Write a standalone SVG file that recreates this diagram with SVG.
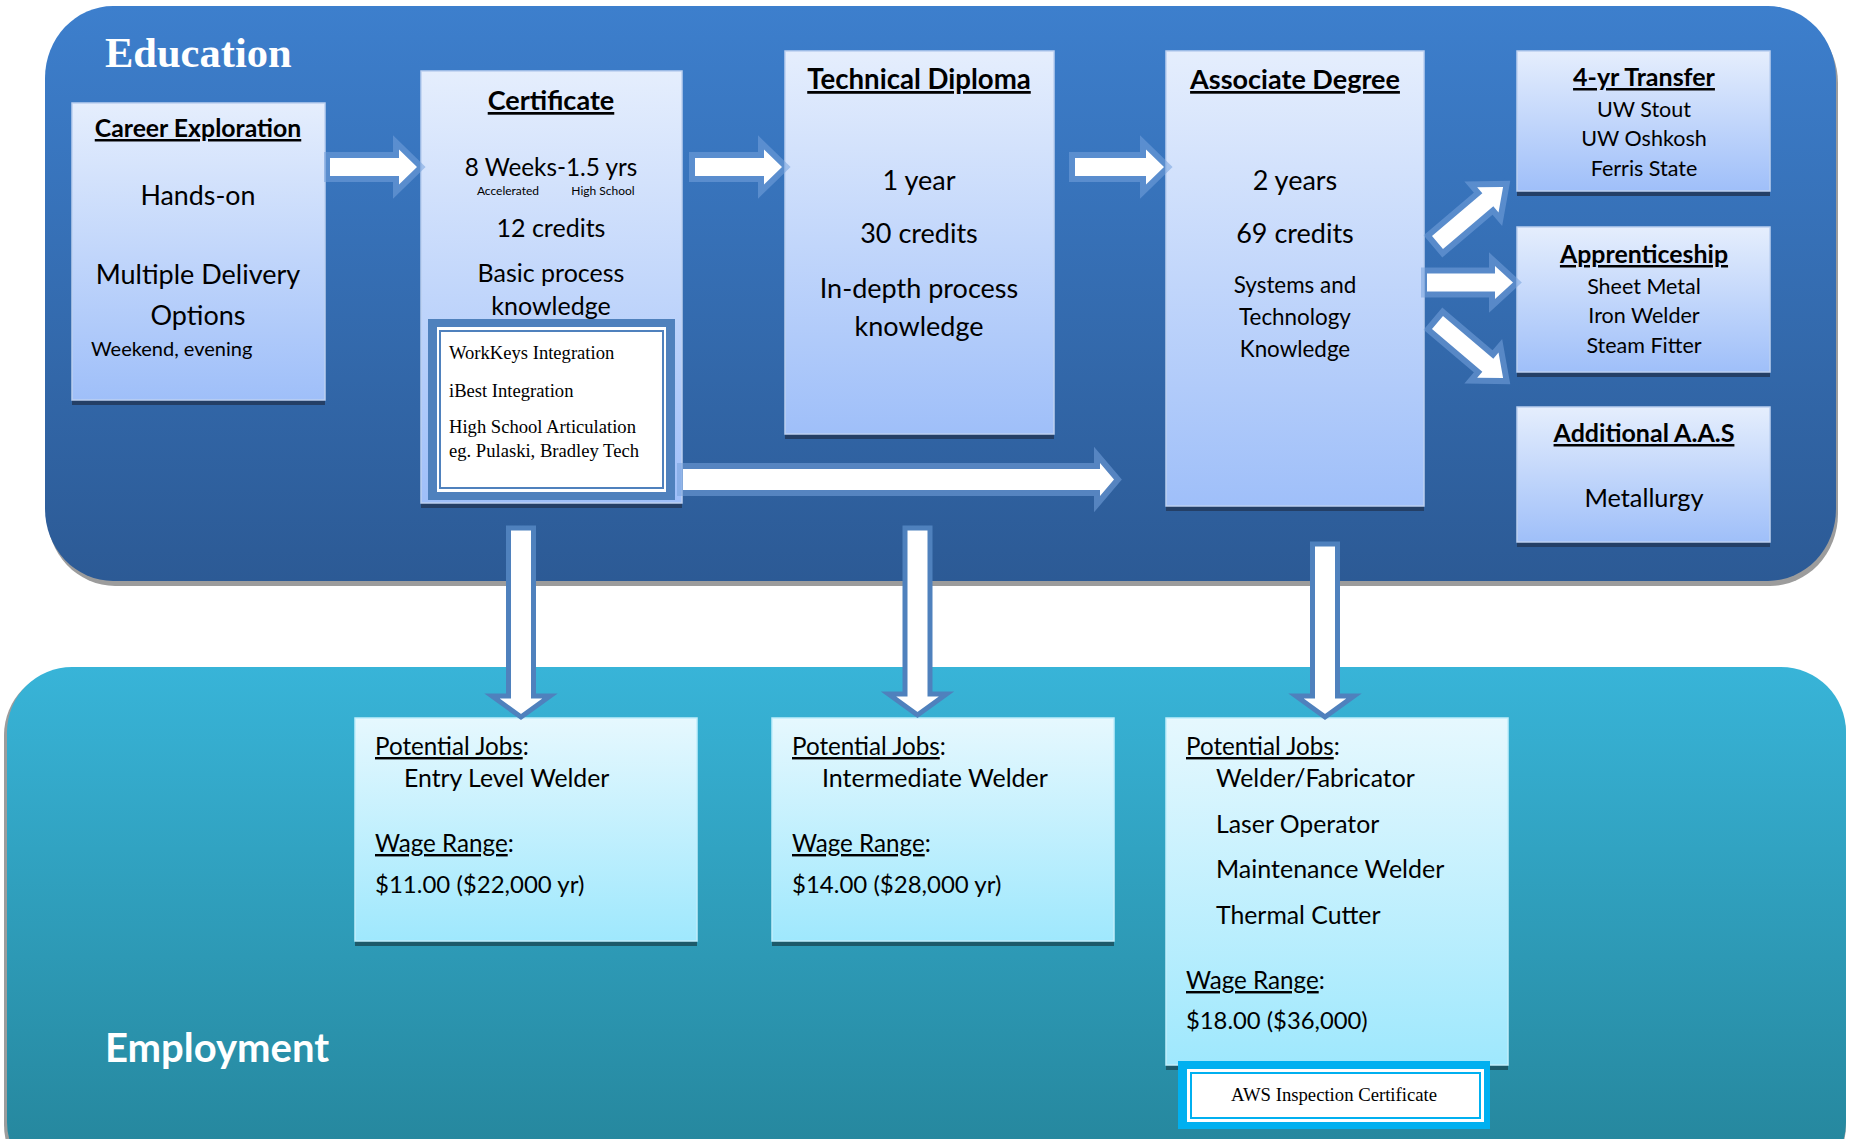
<svg xmlns="http://www.w3.org/2000/svg" width="1853" height="1139" viewBox="0 0 1853 1139">
<defs>
  <linearGradient id="gEdu" x1="0" y1="0" x2="0" y2="1"><stop offset="0" stop-color="#3d7fcd"/><stop offset="1" stop-color="#2c5a95"/></linearGradient>
  <linearGradient id="gEmp" gradientUnits="userSpaceOnUse" x1="0" y1="667" x2="0" y2="1139"><stop offset="0" stop-color="#38b4d8"/><stop offset="1" stop-color="#26889f"/></linearGradient>
  <linearGradient id="gBox" x1="0" y1="0" x2="0" y2="1"><stop offset="0" stop-color="#e5eefd"/><stop offset="1" stop-color="#9fbff9"/></linearGradient>
  <linearGradient id="gJob" x1="0" y1="0" x2="0" y2="1"><stop offset="0" stop-color="#e6f8fe"/><stop offset="1" stop-color="#9fe8fd"/></linearGradient>
</defs>
<style>
  .box{fill:url(#gBox);stroke:#bcd0f0;stroke-width:1.5}
  .shd{fill:#243f66}
  .job{fill:url(#gJob);stroke:#c0eefb;stroke-width:1.5}
  .jshd{fill:#1d5a6a}
  .t{font-family:Lato,"Open Sans",sans-serif;fill:#000}
  .c{text-anchor:middle}
  .h{font-weight:bold;text-decoration:underline}
  .tr{font-family:"Liberation Serif","Times New Roman",serif;fill:#000}
  .ha{fill:#fff;stroke:#77a3dc;stroke-opacity:.55;stroke-width:12;stroke-linejoin:miter;paint-order:stroke}
  .da{fill:#fff;stroke:#4f81bd;stroke-width:5;stroke-linejoin:miter}
</style>
<rect width="1853" height="1139" fill="#fff"/>

<g id="education-panel">
  <rect x="47" y="11" width="1791" height="575" rx="68" ry="72" fill="#9c9c9c"/>
  <rect x="45" y="6" width="1791" height="575" rx="68" ry="72" fill="url(#gEdu)"/>
  <text x="105" y="67" font-family="'Liberation Serif','Times New Roman',serif" font-weight="bold" font-size="42.5" fill="#fff">Education</text>
</g>

<g id="employment-panel">
  <rect x="4" y="670" width="1842" height="520" rx="65" ry="65" fill="#9c9c9c"/>
  <rect x="7" y="667" width="1839" height="520" rx="65" ry="65" fill="url(#gEmp)"/>
  <text x="105" y="1062" font-family="Lato,'Open Sans',sans-serif" font-weight="bold" font-size="40" fill="#fff">Employment</text>
</g>

<g id="career-exploration">
  <rect class="shd" x="72" y="400" width="253" height="5"/>
  <rect class="box" x="72" y="103" width="253" height="297"/>
  <text class="t c h" x="198" y="137" font-size="24.8">Career Exploration</text>
  <text class="t c" x="198" y="205" font-size="26.8">Hands-on</text>
  <text class="t c" x="198" y="284" font-size="27">Multiple Delivery</text>
  <text class="t c" x="198" y="325" font-size="27">Options</text>
  <text class="t" x="91" y="356" font-size="20">Weekend, evening</text>
</g>

<g id="certificate">
  <rect class="shd" x="421" y="503" width="261" height="5"/>
  <rect class="box" x="421" y="71" width="261" height="432"/>
  <text class="t c h" x="551" y="110" font-size="27">Certificate</text>
  <text class="t c" x="551" y="176" font-size="24.3">8 Weeks-1.5 yrs</text>
  <text class="t c" x="508" y="195" font-size="12">Accelerated</text>
  <text class="t c" x="603" y="195" font-size="12">High School</text>
  <text class="t c" x="551" y="237" font-size="25">12 credits</text>
  <text class="t c" x="551" y="282" font-size="25">Basic process</text>
  <text class="t c" x="551" y="315" font-size="25">knowledge</text>
  <rect x="428" y="319" width="247" height="181" fill="#4f81bd"/>
  <rect x="437" y="327" width="229" height="165" fill="#fff"/>
  <rect x="440" y="331" width="223" height="157" fill="#fff" stroke="#4f81bd" stroke-width="2"/>
  <text class="tr" x="449" y="359" font-size="18.6">WorkKeys Integration</text>
  <text class="tr" x="449" y="397" font-size="18.6">iBest Integration</text>
  <text class="tr" x="449" y="433" font-size="18.6">High School Articulation</text>
  <text class="tr" x="449" y="457" font-size="18.6">eg. Pulaski, Bradley Tech</text>
</g>

<g id="technical-diploma">
  <rect class="shd" x="785" y="434" width="269" height="5"/>
  <rect class="box" x="785" y="51" width="269" height="383"/>
  <text class="t c h" x="919" y="89" font-size="27.6">Technical Diploma</text>
  <text class="t c" x="919" y="190" font-size="27">1 year</text>
  <text class="t c" x="919" y="243" font-size="27">30 credits</text>
  <text class="t c" x="919" y="298" font-size="27">In-depth process</text>
  <text class="t c" x="919" y="336" font-size="27">knowledge</text>
</g>

<g id="associate-degree">
  <rect class="shd" x="1166" y="506" width="258" height="5"/>
  <rect class="box" x="1166" y="51" width="258" height="455"/>
  <text class="t c h" x="1295" y="89" font-size="27">Associate Degree</text>
  <text class="t c" x="1295" y="190" font-size="27">2 years</text>
  <text class="t c" x="1295" y="243" font-size="27">69 credits</text>
  <text class="t c" x="1295" y="293" font-size="22.4">Systems and</text>
  <text class="t c" x="1295" y="325" font-size="22.4">Technology</text>
  <text class="t c" x="1295" y="357" font-size="22.4">Knowledge</text>
</g>

<g id="four-year-transfer">
  <rect class="shd" x="1517" y="191" width="253" height="5"/>
  <rect class="box" x="1517" y="51" width="253" height="140"/>
  <text class="t c h" x="1644" y="86" font-size="25">4-yr Transfer</text>
  <text class="t c" x="1644" y="117" font-size="21.5">UW Stout</text>
  <text class="t c" x="1644" y="146" font-size="21.5">UW Oshkosh</text>
  <text class="t c" x="1644" y="176" font-size="21.5">Ferris State</text>
</g>

<g id="apprenticeship">
  <rect class="shd" x="1517" y="372" width="253" height="5"/>
  <rect class="box" x="1517" y="227" width="253" height="145"/>
  <text class="t c h" x="1644" y="263" font-size="24.9">Apprenticeship</text>
  <text class="t c" x="1644" y="294" font-size="21.5">Sheet Metal</text>
  <text class="t c" x="1644" y="323" font-size="21.5">Iron Welder</text>
  <text class="t c" x="1644" y="353" font-size="21.5">Steam Fitter</text>
</g>

<g id="additional-aas">
  <rect class="shd" x="1517" y="542" width="253" height="5"/>
  <rect class="box" x="1517" y="407" width="253" height="135"/>
  <text class="t c h" x="1644" y="442" font-size="25">Additional A.A.S</text>
  <text class="t c" x="1644" y="507" font-size="25.3">Metallurgy</text>
</g>

<g id="jobs-certificate">
  <rect class="jshd" x="355" y="941" width="342" height="5"/>
  <rect class="job" x="355" y="718" width="342" height="223"/>
  <text class="t" x="375" y="755" font-size="24.2"><tspan text-decoration="underline">Potential Jobs</tspan>:</text>
  <text class="t" x="404" y="787" font-size="24.8">Entry Level Welder</text>
  <text class="t" x="375" y="852" font-size="24.2"><tspan text-decoration="underline">Wage Range</tspan>:</text>
  <text class="t" x="375" y="893" font-size="24">$11.00 ($22,000 yr)</text>
</g>

<g id="jobs-diploma">
  <rect class="jshd" x="772" y="941" width="342" height="5"/>
  <rect class="job" x="772" y="718" width="342" height="223"/>
  <text class="t" x="792" y="755" font-size="24.2"><tspan text-decoration="underline">Potential Jobs</tspan>:</text>
  <text class="t" x="822" y="787" font-size="25">Intermediate Welder</text>
  <text class="t" x="792" y="852" font-size="24.2"><tspan text-decoration="underline">Wage Range</tspan>:</text>
  <text class="t" x="792" y="893" font-size="24">$14.00 ($28,000 yr)</text>
</g>

<g id="jobs-degree">
  <rect class="jshd" x="1166" y="1065" width="342" height="5"/>
  <rect class="job" x="1166" y="718" width="342" height="347"/>
  <text class="t" x="1186" y="755" font-size="24.2"><tspan text-decoration="underline">Potential Jobs</tspan>:</text>
  <text class="t" x="1216" y="787" font-size="24.8">Welder/Fabricator</text>
  <text class="t" x="1216" y="833" font-size="24.8">Laser Operator</text>
  <text class="t" x="1216" y="878" font-size="25">Maintenance Welder</text>
  <text class="t" x="1216" y="924" font-size="24.8">Thermal Cutter</text>
  <text class="t" x="1186" y="989" font-size="24.2"><tspan text-decoration="underline">Wage Range</tspan>:</text>
  <text class="t" x="1186" y="1029" font-size="23.8">$18.00 ($36,000)</text>
</g>

<g id="aws-certificate">
  <rect x="1178" y="1061" width="312" height="68" fill="#00b0f0"/>
  <rect x="1187" y="1069" width="297" height="53" fill="#fff"/>
  <rect x="1191" y="1073" width="289" height="45" fill="#fff" stroke="#00b0f0" stroke-width="2"/>
  <text class="tr c" x="1334" y="1101" font-size="18.7">AWS Inspection Certificate</text>
</g>

<g id="connectors">
  <polygon class="ha" points="330,158 399,158 399,149.5 417,167 399,184.5 399,176 330,176"/>
  <polygon class="ha" points="695,158 764,158 764,149.5 782,167 764,184.5 764,176 695,176"/>
  <polygon class="ha" points="1075,158 1146,158 1146,149.5 1164,167 1146,184.5 1146,176 1075,176"/>
  <polygon class="ha" points="683,469 1100,469 1100,463 1114,479.5 1100,496 1100,490 683,490"/>
  <polygon class="ha" transform="translate(1437.5,242.5) rotate(-40.3)" points="0,-8.5 66,-8.5 66,-16.5 86,0 66,16.5 66,8.5 0,8.5"/>
  <polygon class="ha" points="1427,273.5 1495,273.5 1495,266 1513,282.5 1495,299 1495,291.5 1427,291.5"/>
  <polygon class="ha" transform="translate(1437.5,322.5) rotate(40.3)" points="0,-8.5 66,-8.5 66,-16.5 86,0 66,16.5 66,8.5 0,8.5"/>
  <polygon class="da" points="508.5,528 533.5,528 533.5,696 550,696 521,717 492,696 508.5,696"/>
  <polygon class="da" points="905,528 930,528 930,694 946.5,694 917.5,715 888.5,694 905,694"/>
  <polygon class="da" points="1312.5,544 1337.5,544 1337.5,696 1354,696 1325,717 1296,696 1312.5,696"/>
</g>
</svg>
